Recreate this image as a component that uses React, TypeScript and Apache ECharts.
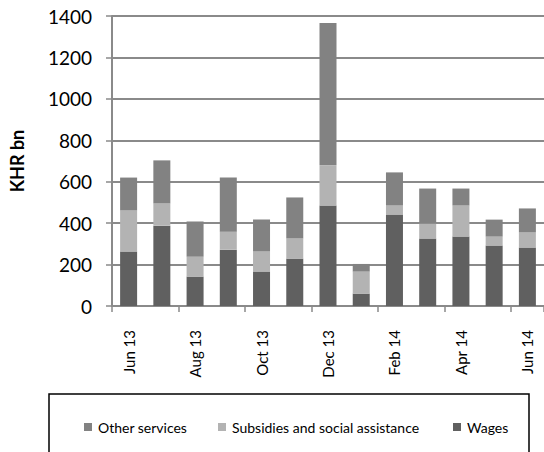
import React, { useEffect, useRef } from "react";
import * as echarts from "echarts";

const categories = ["Jun 13", "Jul 13", "Aug 13", "Sep 13", "Oct 13", "Nov 13", "Dec 13", "Jan 14", "Feb 14", "Mar 14", "Apr 14", "May 14", "Jun 14"];
const wages = [263, 388, 142, 272, 166, 229, 485, 60, 442, 326, 335, 292, 282];
const subsidies = [198, 107, 96, 87, 97, 97, 194, 106, 43, 72, 150, 43, 73];
const otherServices = [159, 208, 170, 261, 154, 198, 687, 37, 160, 169, 82, 82, 116];
const yTicks = { min: 0, max: 1400, interval: 200 };

const FONT = "Lato";
const AXIS_GRAY = "#8a8a8a";

export default function App() {
  const ref = useRef<HTMLDivElement>(null);
  useEffect(() => {
    document.body.style.margin = "0";
    const chart = echarts.init(ref.current!, undefined, { renderer: "svg" });
    const legendCommon = {
      top: 415,
      icon: "rect",
      itemWidth: 8,
      itemHeight: 8,
      itemGap: 0,
      textStyle: { fontFamily: FONT, fontSize: 14, color: "#000", padding: [0, 0, 0, 1] },
      selectedMode: false as const,
    };
    chart.setOption({
      animation: false,
      textStyle: { fontFamily: FONT },
      grid: { left: 111, top: 16, width: 438, height: 290, containLabel: false },
      legend: [
        { ...legendCommon, left: 79, data: ["Other services"] },
        { ...legendCommon, left: 213, data: ["Subsidies and social assistance"] },
        { ...legendCommon, left: 448, data: ["Wages"] },
      ],
      xAxis: {
        type: "category",
        data: categories,
        axisLine: { lineStyle: { color: AXIS_GRAY, width: 2 } },
        axisTick: { show: true, interval: 1, length: 6, lineStyle: { color: AXIS_GRAY, width: 1.5 } },
        axisLabel: { interval: 1, rotate: 90, margin: 24, fontFamily: FONT, fontSize: 15, color: "#000" },
      },
      yAxis: {
        type: "value",
        min: yTicks.min,
        max: yTicks.max,
        interval: yTicks.interval,
        name: "KHR bn",
        nameLocation: "middle",
        nameGap: 86,
        nameTextStyle: { fontFamily: FONT, fontSize: 18, fontWeight: "bold", color: "#000" },
        axisLine: { show: true, lineStyle: { color: AXIS_GRAY, width: 2 } },
        axisTick: { show: true, length: 6, lineStyle: { color: AXIS_GRAY, width: 1.5 } },
        axisLabel: { margin: 20, fontFamily: FONT, fontSize: 19, color: "#000", formatter: (v: number) => String(v) },
        splitLine: { show: true, lineStyle: { color: AXIS_GRAY, width: 2 } },
      },
      series: [
        { name: "Wages", type: "bar", stack: "total", data: wages, barWidth: 17, itemStyle: { color: "#606060" } },
        { name: "Subsidies and social assistance", type: "bar", stack: "total", data: subsidies, barWidth: 17, itemStyle: { color: "#b3b3b3" } },
        { name: "Other services", type: "bar", stack: "total", data: otherServices, barWidth: 17, itemStyle: { color: "#828282" } },
      ],
      graphic: [
        { type: "rect", shape: { x: 49, y: 394, width: 480, height: 80 }, style: { fill: "none", stroke: "#000", lineWidth: 1.5 } },
      ],
    });
    return () => chart.dispose();
  }, []);
  return <div ref={ref} style={{ width: 544, height: 452, position: "absolute", left: 0, top: 0 }} />;
}
